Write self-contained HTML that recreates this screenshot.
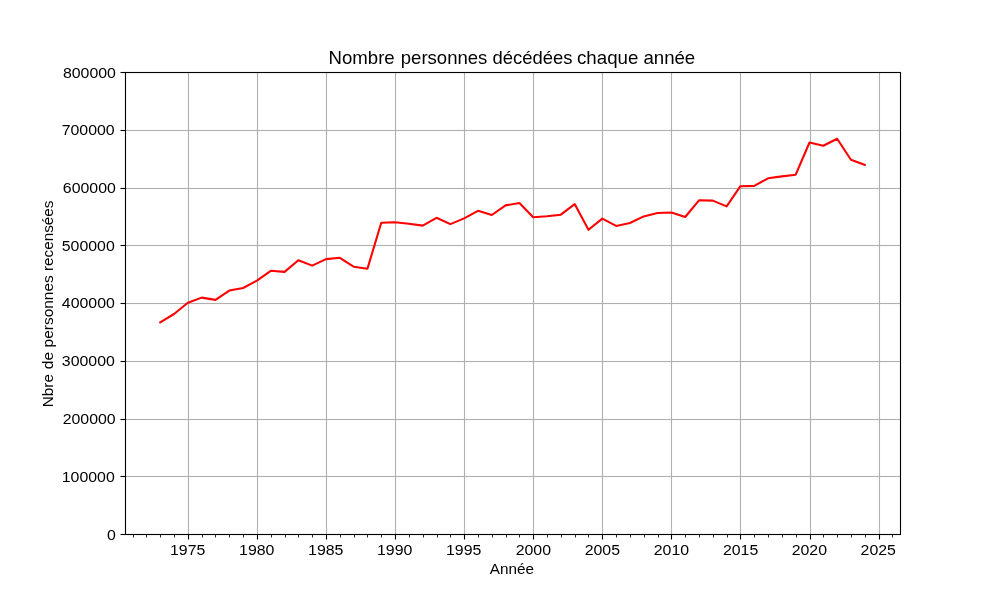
<!DOCTYPE html>
<html lang="fr">
<head>
<meta charset="utf-8">
<title>Nombre personnes décédées chaque année</title>
<style>
html,body{margin:0;padding:0;background:#ffffff;}
body{width:1000px;height:600px;overflow:hidden;}
svg{display:block;}
text{will-change:transform;}
text{font-family:"Liberation Sans",sans-serif;fill:#000000;}
.g{stroke:#b0b0b0;stroke-width:1.111;}
.s{stroke:#000000;stroke-width:1.111;fill:none;}
.m{stroke:#000000;stroke-width:0.833;}
.t{font-size:14.76px;}
.h{font-size:17.8px;}
.l{font-size:14.45px;}
</style>
</head>
<body>
<svg width="1000" height="600" viewBox="0 0 1000 600">
<rect x="0" y="0" width="1000" height="600" fill="#ffffff"/>
<g class="g">
<line x1="188.5" y1="72" x2="188.5" y2="534"/>
<line x1="257.5" y1="72" x2="257.5" y2="534"/>
<line x1="326.5" y1="72" x2="326.5" y2="534"/>
<line x1="395.5" y1="72" x2="395.5" y2="534"/>
<line x1="464.5" y1="72" x2="464.5" y2="534"/>
<line x1="533.5" y1="72" x2="533.5" y2="534"/>
<line x1="602.5" y1="72" x2="602.5" y2="534"/>
<line x1="671.5" y1="72" x2="671.5" y2="534"/>
<line x1="740.5" y1="72" x2="740.5" y2="534"/>
<line x1="810.5" y1="72" x2="810.5" y2="534"/>
<line x1="879.5" y1="72" x2="879.5" y2="534"/>
<rect x="125" y="475.945" width="775" height="1.111" fill="#b0b0b0" stroke="none"/>
<rect x="125" y="418.945" width="775" height="1.111" fill="#b0b0b0" stroke="none"/>
<rect x="125" y="360.945" width="775" height="1.111" fill="#b0b0b0" stroke="none"/>
<rect x="125" y="302.945" width="775" height="1.111" fill="#b0b0b0" stroke="none"/>
<rect x="125" y="244.945" width="775" height="1.111" fill="#b0b0b0" stroke="none"/>
<rect x="125" y="187.945" width="775" height="1.111" fill="#b0b0b0" stroke="none"/>
<rect x="125" y="129.945" width="775" height="1.111" fill="#b0b0b0" stroke="none"/>
</g>
<g class="m">
<line x1="133.5" y1="534.5" x2="133.5" y2="537.5"/>
<line x1="146.5" y1="534.5" x2="146.5" y2="537.5"/>
<line x1="160.5" y1="534.5" x2="160.5" y2="537.5"/>
<line x1="174.5" y1="534.5" x2="174.5" y2="537.5"/>
<line x1="202.5" y1="534.5" x2="202.5" y2="537.5"/>
<line x1="215.5" y1="534.5" x2="215.5" y2="537.5"/>
<line x1="229.5" y1="534.5" x2="229.5" y2="537.5"/>
<line x1="243.5" y1="534.5" x2="243.5" y2="537.5"/>
<line x1="271.5" y1="534.5" x2="271.5" y2="537.5"/>
<line x1="285.5" y1="534.5" x2="285.5" y2="537.5"/>
<line x1="298.5" y1="534.5" x2="298.5" y2="537.5"/>
<line x1="312.5" y1="534.5" x2="312.5" y2="537.5"/>
<line x1="340.5" y1="534.5" x2="340.5" y2="537.5"/>
<line x1="354.5" y1="534.5" x2="354.5" y2="537.5"/>
<line x1="367.5" y1="534.5" x2="367.5" y2="537.5"/>
<line x1="381.5" y1="534.5" x2="381.5" y2="537.5"/>
<line x1="409.5" y1="534.5" x2="409.5" y2="537.5"/>
<line x1="423.5" y1="534.5" x2="423.5" y2="537.5"/>
<line x1="437.5" y1="534.5" x2="437.5" y2="537.5"/>
<line x1="450.5" y1="534.5" x2="450.5" y2="537.5"/>
<line x1="478.5" y1="534.5" x2="478.5" y2="537.5"/>
<line x1="492.5" y1="534.5" x2="492.5" y2="537.5"/>
<line x1="506.5" y1="534.5" x2="506.5" y2="537.5"/>
<line x1="519.5" y1="534.5" x2="519.5" y2="537.5"/>
<line x1="547.5" y1="534.5" x2="547.5" y2="537.5"/>
<line x1="561.5" y1="534.5" x2="561.5" y2="537.5"/>
<line x1="575.5" y1="534.5" x2="575.5" y2="537.5"/>
<line x1="588.5" y1="534.5" x2="588.5" y2="537.5"/>
<line x1="616.5" y1="534.5" x2="616.5" y2="537.5"/>
<line x1="630.5" y1="534.5" x2="630.5" y2="537.5"/>
<line x1="644.5" y1="534.5" x2="644.5" y2="537.5"/>
<line x1="658.5" y1="534.5" x2="658.5" y2="537.5"/>
<line x1="685.5" y1="534.5" x2="685.5" y2="537.5"/>
<line x1="699.5" y1="534.5" x2="699.5" y2="537.5"/>
<line x1="713.5" y1="534.5" x2="713.5" y2="537.5"/>
<line x1="727.5" y1="534.5" x2="727.5" y2="537.5"/>
<line x1="754.5" y1="534.5" x2="754.5" y2="537.5"/>
<line x1="768.5" y1="534.5" x2="768.5" y2="537.5"/>
<line x1="782.5" y1="534.5" x2="782.5" y2="537.5"/>
<line x1="796.5" y1="534.5" x2="796.5" y2="537.5"/>
<line x1="823.5" y1="534.5" x2="823.5" y2="537.5"/>
<line x1="837.5" y1="534.5" x2="837.5" y2="537.5"/>
<line x1="851.5" y1="534.5" x2="851.5" y2="537.5"/>
<line x1="865.5" y1="534.5" x2="865.5" y2="537.5"/>
<line x1="892.5" y1="534.5" x2="892.5" y2="537.5"/>
</g>
<g class="s">
<line x1="188.5" y1="534.5" x2="188.5" y2="539.5"/>
<line x1="257.5" y1="534.5" x2="257.5" y2="539.5"/>
<line x1="326.5" y1="534.5" x2="326.5" y2="539.5"/>
<line x1="395.5" y1="534.5" x2="395.5" y2="539.5"/>
<line x1="464.5" y1="534.5" x2="464.5" y2="539.5"/>
<line x1="533.5" y1="534.5" x2="533.5" y2="539.5"/>
<line x1="602.5" y1="534.5" x2="602.5" y2="539.5"/>
<line x1="671.5" y1="534.5" x2="671.5" y2="539.5"/>
<line x1="740.5" y1="534.5" x2="740.5" y2="539.5"/>
<line x1="810.5" y1="534.5" x2="810.5" y2="539.5"/>
<line x1="879.5" y1="534.5" x2="879.5" y2="539.5"/>
<line x1="120.5" y1="534.5" x2="125.5" y2="534.5"/>
<line x1="120.5" y1="476.5" x2="125.5" y2="476.5"/>
<line x1="120.5" y1="419.5" x2="125.5" y2="419.5"/>
<line x1="120.5" y1="361.5" x2="125.5" y2="361.5"/>
<line x1="120.5" y1="303.5" x2="125.5" y2="303.5"/>
<line x1="120.5" y1="245.5" x2="125.5" y2="245.5"/>
<line x1="120.5" y1="188.5" x2="125.5" y2="188.5"/>
<line x1="120.5" y1="130.5" x2="125.5" y2="130.5"/>
<line x1="120.5" y1="72.5" x2="125.5" y2="72.5"/>
</g>
<polyline points="160.23,322.30 174.04,314.00 187.86,302.80 201.67,297.60 215.49,299.90 229.30,290.60 243.11,288.00 256.93,280.60 270.74,270.80 284.56,271.90 298.37,260.20 312.19,265.60 326.00,259.10 339.82,257.80 353.63,266.70 367.45,268.70 381.26,222.80 395.08,222.30 408.89,223.80 422.70,225.60 436.52,217.80 450.33,224.10 464.15,218.40 477.96,210.80 491.78,215.00 505.59,205.40 519.41,203.00 533.22,217.30 547.04,216.30 560.85,214.70 574.67,204.10 588.48,229.80 602.30,218.60 616.11,225.90 629.92,223.00 643.74,216.40 657.55,213.00 671.37,212.50 685.18,217.00 699.00,200.30 712.81,200.60 726.63,206.40 740.44,186.20 754.26,185.90 768.07,178.30 781.89,176.40 795.70,174.70 809.51,142.50 823.33,145.80 837.14,138.80 850.96,159.80 864.77,164.90" fill="none" stroke="#ff0000" stroke-width="2.083" stroke-linejoin="round" stroke-linecap="square"/>
<rect class="s" x="125.5" y="72.5" width="775" height="462"/>
<text class="t" x="106.91" y="539.63" textLength="8.84" lengthAdjust="spacingAndGlyphs">0</text>
<text class="t" x="61.74" y="481.61" textLength="53.04" lengthAdjust="spacingAndGlyphs">100000</text>
<text class="t" x="62.68" y="423.64" textLength="53.04" lengthAdjust="spacingAndGlyphs">200000</text>
<text class="t" x="61.85" y="365.62" textLength="53.04" lengthAdjust="spacingAndGlyphs">300000</text>
<text class="t" x="61.80" y="307.58" textLength="53.04" lengthAdjust="spacingAndGlyphs">400000</text>
<text class="t" x="61.75" y="250.65" textLength="53.04" lengthAdjust="spacingAndGlyphs">500000</text>
<text class="t" x="62.85" y="192.63" textLength="53.04" lengthAdjust="spacingAndGlyphs">600000</text>
<text class="t" x="61.65" y="134.66" textLength="53.04" lengthAdjust="spacingAndGlyphs">700000</text>
<text class="t" x="62.91" y="77.62" textLength="53.04" lengthAdjust="spacingAndGlyphs">800000</text>
<text class="t" x="170.00" y="554.56" textLength="35.36" lengthAdjust="spacingAndGlyphs">1975</text>
<text class="t" x="239.06" y="554.73" textLength="35.36" lengthAdjust="spacingAndGlyphs">1980</text>
<text class="t" x="308.08" y="554.52" textLength="35.36" lengthAdjust="spacingAndGlyphs">1985</text>
<text class="t" x="377.03" y="554.70" textLength="35.36" lengthAdjust="spacingAndGlyphs">1990</text>
<text class="t" x="446.04" y="554.73" textLength="35.36" lengthAdjust="spacingAndGlyphs">1995</text>
<text class="t" x="515.70" y="554.59" textLength="35.36" lengthAdjust="spacingAndGlyphs">2000</text>
<text class="t" x="584.69" y="554.62" textLength="35.36" lengthAdjust="spacingAndGlyphs">2005</text>
<text class="t" x="653.76" y="554.55" textLength="35.36" lengthAdjust="spacingAndGlyphs">2010</text>
<text class="t" x="722.95" y="554.59" textLength="35.36" lengthAdjust="spacingAndGlyphs">2015</text>
<text class="t" x="791.65" y="554.60" textLength="35.36" lengthAdjust="spacingAndGlyphs">2020</text>
<text class="t" x="860.61" y="554.64" textLength="35.36" lengthAdjust="spacingAndGlyphs">2025</text>
<text class="h" y="64.00"><tspan x="328.50" textLength="66.22" lengthAdjust="spacingAndGlyphs">Nombre</tspan> <tspan x="400.77" textLength="86.63" lengthAdjust="spacingAndGlyphs">personnes</tspan> <tspan x="492.45" textLength="80.02" lengthAdjust="spacingAndGlyphs">décédées</tspan> <tspan x="577.02" textLength="61.34" lengthAdjust="spacingAndGlyphs">chaque</tspan> <tspan x="643.40" textLength="51.85" lengthAdjust="spacingAndGlyphs">année</tspan></text>
<text class="l" x="489.75" y="573.60" textLength="44.20" lengthAdjust="spacingAndGlyphs">Année</text>
<text class="l" transform="translate(53.00,407.02) rotate(-90)" y="0"><tspan x="-0.25" textLength="33.16" lengthAdjust="spacingAndGlyphs">Nbre</tspan> <tspan x="37.82" textLength="17.36" lengthAdjust="spacingAndGlyphs">de</tspan> <tspan x="59.60" textLength="72.19" lengthAdjust="spacingAndGlyphs">personnes</tspan> <tspan x="135.95" textLength="70.50" lengthAdjust="spacingAndGlyphs">recensées</tspan></text>
</svg>
</body>
</html>
